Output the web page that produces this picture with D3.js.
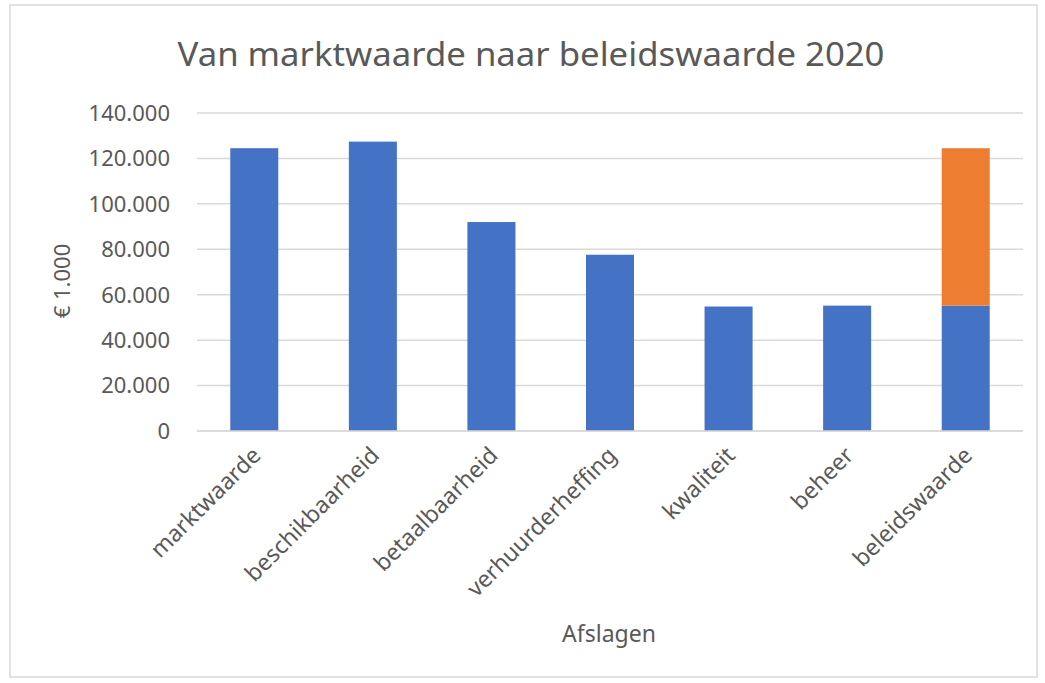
<!DOCTYPE html>
<html lang="nl">
<head>
    <meta charset="UTF-8">
    <title>Van marktwaarde naar beleidswaarde 2020</title>
    <script src="https://d3js.org/d3.v7.min.js"></script>
    <style>
        body { margin: 0; background: #fff; }
        text { font-family: "Noto Sans", "Open Sans", sans-serif; fill: #595959; }
        .grid line { stroke: #d9d9d9; stroke-width: 1.5; }
    </style>
</head>
<body>

<svg width="1045" height="683"></svg>

<script>
    // Data (x € 1.000)
    const categories = ["marktwaarde", "beschikbaarheid", "betaalbaarheid", "verhuurderheffing", "kwaliteit", "beheer", "beleidswaarde"];
    const blueValues = [124500, 127400, 92000, 77600, 54800, 55200, 55200];
    const orangeValues = [0, 0, 0, 0, 0, 0, 69300];
    const yTicks = [0, 20000, 40000, 60000, 80000, 100000, 120000, 140000];

    const svg = d3.select("svg");

    // chart border
    svg.append("rect")
        .attr("x", 10).attr("y", 5)
        .attr("width", 1027).attr("height", 672)
        .attr("fill", "#fff")
        .attr("stroke", "#d9d9d9")
        .attr("stroke-width", 1.5);

    const x = d3.scaleBand()
        .domain(categories)
        .range([195, 1025])
        .paddingInner(0.595)
        .paddingOuter(0.2975);

    const y = d3.scaleLinear()
        .domain([0, 140000])
        .range([431, 113]);

    const fmt = v => d3.format(",")(v).replace(/,/g, ".");

    // gridlines
    svg.append("g")
        .attr("class", "grid")
        .selectAll("line")
        .data(yTicks)
        .join("line")
        .attr("x1", 197)
        .attr("x2", 1023)
        .attr("y1", d => y(d))
        .attr("y2", d => y(d));

    // y tick labels
    svg.append("g")
        .selectAll("text")
        .data(yTicks)
        .join("text")
        .attr("x", 170)
        .attr("y", d => y(d))
        .attr("dy", "0.36em")
        .attr("text-anchor", "end")
        .attr("font-size", 22)
        .text(fmt);

    // blue bars
    svg.append("g")
        .selectAll("rect")
        .data(categories)
        .join("rect")
        .attr("x", d => x(d))
        .attr("width", x.bandwidth())
        .attr("y", (d, i) => y(blueValues[i]))
        .attr("height", (d, i) => y(0) - y(blueValues[i]))
        .attr("fill", "#4472c4");

    // orange stacked part
    svg.append("g")
        .selectAll("rect")
        .data(categories)
        .join("rect")
        .attr("x", d => x(d))
        .attr("width", x.bandwidth())
        .attr("y", (d, i) => y(blueValues[i] + orangeValues[i]))
        .attr("height", (d, i) => y(blueValues[i]) - y(blueValues[i] + orangeValues[i]))
        .attr("fill", "#ed7d31");

    // redraw axis line over bars
    svg.append("line")
        .attr("x1", 197).attr("x2", 1023)
        .attr("y1", y(0)).attr("y2", y(0))
        .attr("stroke", "#d9d9d9")
        .attr("stroke-width", 1.5);

    // x labels, rotated
    svg.append("g")
        .selectAll("text")
        .data(categories)
        .join("text")
        .attr("transform", d => `translate(${x(d) + x.bandwidth() / 2 + 2},${451}) rotate(-45)`)
        .attr("text-anchor", "end")
        .attr("dy", "0.36em")
        .attr("font-size", 23)
        .text(d => d);

    // title
    svg.append("text")
        .attr("x", 531)
        .attr("y", 66)
        .attr("text-anchor", "middle")
        .attr("font-size", 32)
        .attr("textLength", 707)
        .attr("lengthAdjust", "spacingAndGlyphs")
        .text("Van marktwaarde naar beleidswaarde 2020");

    // axis titles
    svg.append("text")
        .attr("transform", "translate(70,281) rotate(-90)")
        .attr("text-anchor", "middle")
        .attr("font-size", 22)
        .attr("fill", "#404040")
        .text("€ 1.000");

    svg.append("text")
        .attr("x", 609)
        .attr("y", 642)
        .attr("text-anchor", "middle")
        .attr("font-size", 23)
        .text("Afslagen");
</script>

</body>
</html>
